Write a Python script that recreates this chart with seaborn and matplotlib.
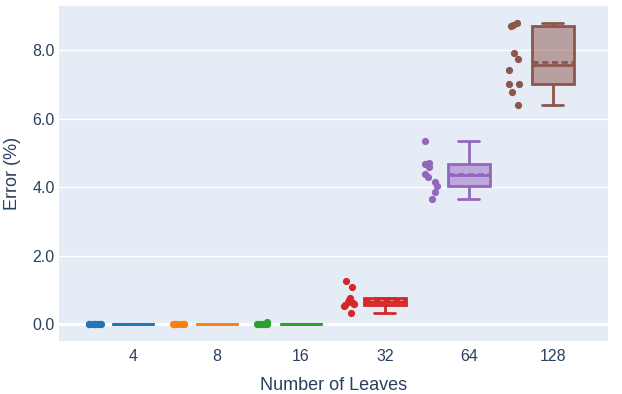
import numpy as np
import pandas as pd
import matplotlib
matplotlib.use("Agg")
import matplotlib.pyplot as plt
import seaborn as sns
from matplotlib.colors import to_rgba

# Error per run, grouped by number of leaves
leaves = ["4", "8", "16", "32", "64", "128"]
err_4 = [0.0, 0.0, 0.0, 0.0, 0.0, 0.0, 0.0, 0.0, 0.0, 0.0]
err_8 = [0.0, 0.0, 0.0, 0.0, 0.0, 0.0, 0.0, 0.0, 0.0, 0.0]
err_16 = [0.06, 0.02, 0.01, 0.0, 0.0, 0.0, 0.0, 0.0, 0.0, 0.0]
err_32 = [1.26, 1.09, 0.76, 0.72, 0.66, 0.62, 0.60, 0.56, 0.53, 0.34]
err_64 = [5.34, 4.71, 4.69, 4.60, 4.40, 4.30, 4.15, 4.03, 3.85, 3.66]
err_128 = [8.80, 8.74, 8.71, 7.91, 7.73, 7.41, 7.01, 7.01, 6.78, 6.40]
colors = ["#1f77b4", "#ff7f0e", "#2ca02c", "#d62728", "#9467bd", "#8c564b"]

series = [err_4, err_8, err_16, err_32, err_64, err_128]
df = pd.DataFrame({
    "Number of Leaves": np.repeat(leaves, [len(s) for s in series]),
    "Error (%)": np.concatenate(series),
})

sns.set_theme(style="darkgrid", rc={
    "axes.facecolor": "#E5ECF6",
    "grid.color": "white",
    "grid.linewidth": 1.0,
    "axes.edgecolor": "#E5ECF6",
})
plt.rcParams["font.family"] = ["Liberation Sans", "DejaVu Sans"]
text_color = "#2a3f5f"

# Quartiles use the midpoint ("hazen") convention, position = p*n - 0.5
_np_percentile = np.percentile


def _hazen_percentile(a, q, *args, **kwargs):
    kwargs.setdefault("method", "hazen")
    return _np_percentile(a, q, *args, **kwargs)


fig = plt.figure(figsize=(6.22, 3.94), dpi=100)
ax = fig.add_axes([59 / 622, 1 - 341 / 394, (608 - 59) / 622, (341 - 6) / 394])
ax.axhline(0, color="white", lw=2.2, zorder=0.9)

np.random.seed(11)
point_shift = -0.45
for lab, col in zip(leaves, colors):
    sub = df[df["Number of Leaves"] == lab]
    np.percentile = _hazen_percentile
    try:
        sns.boxplot(
            data=sub, x="Number of Leaves", y="Error (%)", order=leaves,
            color=col, linecolor=col, saturation=1, width=0.5, linewidth=2,
            showfliers=False, showmeans=True, meanline=True,
            meanprops=dict(color=col, linestyle=(0, (2.2, 1.3)), linewidth=2),
            medianprops=dict(color=col, linewidth=2),
            ax=ax,
        )
    finally:
        np.percentile = _np_percentile
    for p in ax.patches[-1:]:
        p.set_facecolor(to_rgba(col, 0.5))
        p.set_edgecolor(col)
    n_before = len(ax.collections)
    sns.stripplot(
        data=sub, x="Number of Leaves", y="Error (%)", order=leaves,
        color=col, size=5.2, linewidth=0, jitter=0.08, ax=ax, zorder=3,
    )
    for coll in ax.collections[n_before:]:
        off = coll.get_offsets()
        off[:, 0] = off[:, 0] + point_shift
        coll.set_offsets(off)

ax.set_xlim(-0.881, 5.655)
ax.set_ylim(-0.49, 9.29)
ax.set_yticks([0, 2, 4, 6, 8])
ax.set_yticklabels([f"{v:.1f}" for v in [0, 2, 4, 6, 8]])
ax.tick_params(axis="both", length=0, labelsize=11.5, colors=text_color)
ax.tick_params(axis="y", pad=3)
ax.tick_params(axis="x", pad=6)
ax.set_xlabel("Number of Leaves", fontsize=13, color=text_color, labelpad=9)
ax.set_ylabel("Error (%)", fontsize=13, color=text_color, labelpad=8)
for s in ax.spines.values():
    s.set_visible(False)

fig.savefig("out.png", dpi=100, facecolor="white")
